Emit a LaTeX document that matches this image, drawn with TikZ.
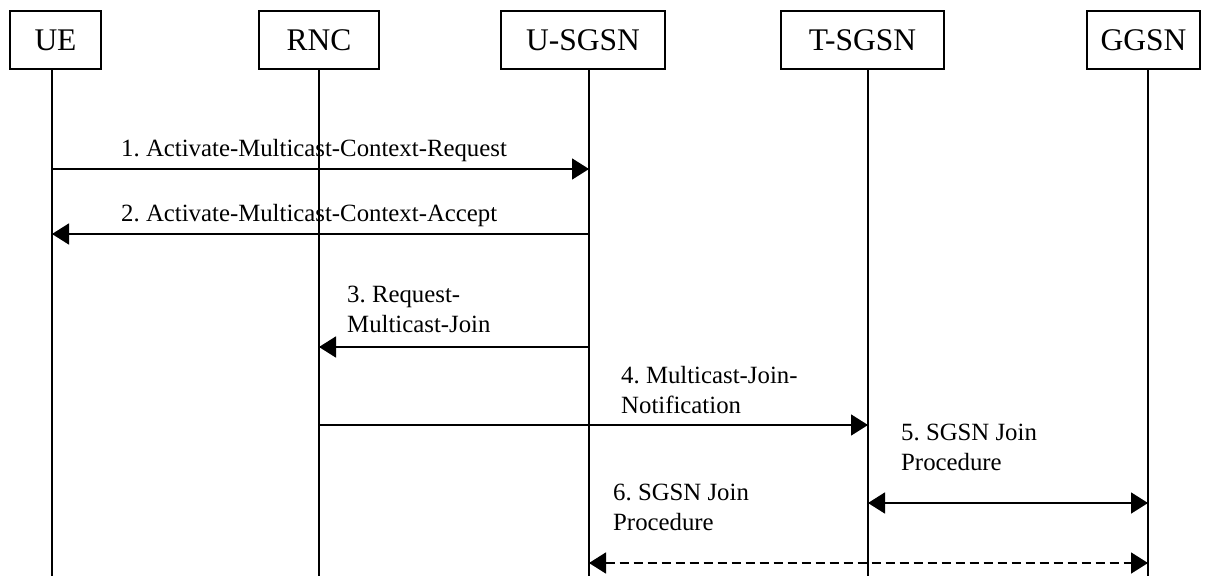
\documentclass[tikz,border=0pt]{standalone}
\usepackage{fontspec}
\setmainfont{Liberation Serif}
\usetikzlibrary{arrows.meta}
\begin{document}
\frenchspacing
\begin{tikzpicture}[x=1pt,y=-1pt,
  ent/.style={draw,line width=1.7pt,minimum height=58pt,inner sep=0pt,font=\fontsize{31.5}{36}\selectfont},
  life/.style={line width=1.7pt},
  msg/.style={line width=1.7pt,-{Triangle[length=17pt,width=21pt]}},
  dmsg/.style={line width=1.7pt,{Triangle[length=17pt,width=21pt]}-{Triangle[length=17pt,width=21pt]}},
  lbl/.style={anchor=base west,inner sep=0pt,align=left,font=\fontsize{24.8}{29.5}\selectfont}]
\useasboundingbox (0,0) rectangle (1208,576);
% entities
\node[ent,minimum width=91pt] (ue) at (55.5,40) {UE};
\node[ent,minimum width=120pt] (rnc) at (319,40) {RNC};
\node[ent,minimum width=164pt] (us) at (583,40) {U-SGSN};
\node[ent,minimum width=163pt] (ts) at (862.5,40) {T-SGSN};
\node[ent,minimum width=113pt] (gg) at (1143.5,40) {GGSN};
% lifeline coordinates
\coordinate (ueT) at (52,69);   \coordinate (ueB) at (52,576);
\coordinate (rncT) at (319,69); \coordinate (rncB) at (319,576);
\coordinate (usT) at (589,69);  \coordinate (usB) at (589,576);
\coordinate (tsT) at (868,69);  \coordinate (tsB) at (868,576);
\coordinate (ggT) at (1148,69); \coordinate (ggB) at (1148,576);
\draw[life] (ueT) -- (ueB);
\draw[life] (rncT) -- (rncB);
\draw[life] (usT) -- (usB);
\draw[life] (tsT) -- (tsB);
\draw[life] (ggT) -- (ggB);
% message levels
\coordinate (m1) at (0,169);
\coordinate (m2) at (0,234);
\coordinate (m3) at (0,347);
\coordinate (m4) at (0,425);
\coordinate (m5) at (0,503);
\coordinate (m6) at (0,563);
% messages
\draw[msg] (ueT |- m1) -- (usT |- m1);
\node[lbl] (l1) at (121,156) {1. Activate-Multicast-Context-Request};
\draw[msg] (usT |- m2) -- (ueT |- m2);
\node[lbl] (l2) at (121,221) {2. Activate-Multicast-Context-Accept};
\draw[msg] (usT |- m3) -- (rncT |- m3);
\node[lbl] (l3) at (347,332) {3. Request-\\Multicast-Join};
\draw[msg] (rncT |- m4) -- (tsT |- m4);
\node[lbl] (l4) at (621,413) {4. Multicast-Join-\\Notification};
\draw[dmsg] (tsT |- m5) -- (ggT |- m5);
\node[lbl] (l5) at (901,470) {5. SGSN Join\\Procedure};
\draw[dmsg,dash pattern=on 9pt off 5pt] (usT |- m6) -- (ggT |- m6);
\node[lbl] (l6) at (613,530) {6. SGSN Join\\Procedure};
\end{tikzpicture}
\end{document}
